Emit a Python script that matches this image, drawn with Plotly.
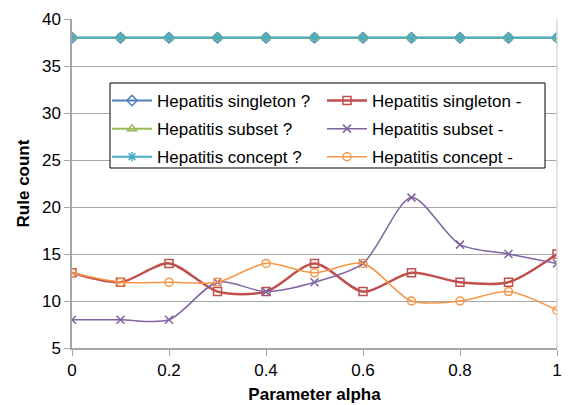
import plotly.graph_objects as go

alpha = [0, 0.1, 0.2, 0.3, 0.4, 0.5, 0.6, 0.7, 0.8, 0.9, 1.0]

singleton_q = [38] * 11
subset_q = [38] * 11
concept_q = [38] * 11
singleton_dash = [13, 12, 14, 11, 11, 14, 11, 13, 12, 12, 15]
subset_dash = [8, 8, 8, 12, 11, 12, 14, 21, 16, 15, 14]
concept_dash = [13, 12, 12, 12, 14, 13, 14, 10, 10, 11, 9]

series = [
    # name, values, colour, marker symbol, line width, legend column
    ("Hepatitis singleton ?", singleton_q, "#4F81BD", "diamond-open", 2, "legend"),
    ("Hepatitis subset ?", subset_q, "#9BBB59", "triangle-up-open", 2, "legend"),
    ("Hepatitis concept ?", concept_q, "#4BACC6", "asterisk-open", 2, "legend"),
    ("Hepatitis singleton -", singleton_dash, "#C0504D", "square-open", 2.5, "legend2"),
    ("Hepatitis subset -", subset_dash, "#8064A2", "x-thin-open", 1.5, "legend2"),
    ("Hepatitis concept -", concept_dash, "#F79646", "circle-open", 1.5, "legend2"),
]

fig = go.Figure()
for i, (name, vals, color, sym, lw, leg) in enumerate(series):
    fig.add_trace(go.Scatter(
        x=alpha, y=vals, name=name, mode="lines+markers",
        line=dict(color=color, width=lw, shape="spline", smoothing=0.8),
        marker=dict(symbol=sym, size=8, color=color, line=dict(color=color, width=1.5)),
        legend=leg, legendgroup=f"g{i}",
    ))

font = "Liberation Sans, Arial, sans-serif"
PL, PR, PT, PB = 72, 557, 19, 348  # plot area edges in pixels
W, H = 569, 405


def px_x(p):
    return (p - PL) / (PR - PL)


def px_y(p):
    return (PB - p) / (PB - PT)


legend_common = dict(
    yanchor="top", xanchor="left", bgcolor="rgba(0,0,0,0)", borderwidth=0,
    font=dict(size=17), tracegroupgap=3, itemwidth=40, traceorder="grouped",
)

fig.update_layout(
    width=W, height=H,
    margin=dict(l=PL, r=W - PR, t=PT, b=H - PB),
    paper_bgcolor="white", plot_bgcolor="white",
    font=dict(family=font, size=17, color="black"),
    showlegend=True,
    legend=dict(x=px_x(107), y=px_y(83), **legend_common),
    legend2=dict(x=px_x(322), y=px_y(83), **legend_common),
    xaxis=dict(
        range=[0, 1], tickvals=[0, 0.2, 0.4, 0.6, 0.8, 1],
        ticktext=["0", "0.2", "0.4", "0.6", "0.8", "1"],
        showgrid=False, showline=True, linecolor="#A6A6A6", linewidth=1.5,
        ticks="outside", ticklen=6, tickcolor="#A6A6A6",
        title=dict(text="<b>Parameter alpha</b>", font=dict(size=17), standoff=9),
        zeroline=False, automargin=False,
    ),
    yaxis=dict(
        range=[5, 40], tickvals=[5, 10, 15, 20, 25, 30, 35, 40],
        showgrid=True, gridcolor="#A6A6A6", gridwidth=1,
        showline=True, linecolor="#A6A6A6", linewidth=1.5,
        ticks="outside", ticklen=6, tickcolor="#A6A6A6",
        title=dict(text="<b>Rule count</b>", font=dict(size=17), standoff=8),
        zeroline=False, automargin=False,
    ),
)

# right edge of plot frame
fig.add_shape(type="line", xref="paper", yref="paper", x0=1, x1=1, y0=0, y1=1,
              line=dict(color="#D9D9D9", width=1.5))

# opaque framed box behind the two legend columns
fig.add_shape(type="rect", xref="paper", yref="paper", layer="above",
              x0=px_x(110), x1=px_x(545), y0=px_y(168), y1=px_y(83),
              fillcolor="white", line=dict(color="black", width=1))

fig.write_html("out.html")
